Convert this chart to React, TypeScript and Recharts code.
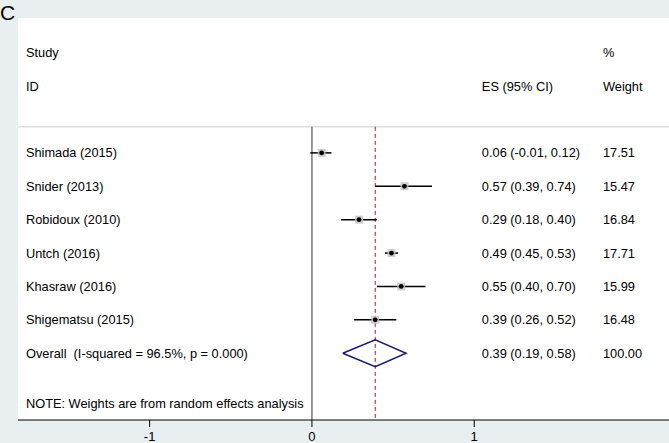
import {
  ScatterChart,
  Scatter,
  XAxis,
  YAxis,
  CartesianGrid,
  ReferenceLine,
} from "recharts";

const studies = [
  "Shimada (2015)",
  "Snider (2013)",
  "Robidoux (2010)",
  "Untch (2016)",
  "Khasraw (2016)",
  "Shigematsu (2015)",
];
const es = [0.06, 0.57, 0.29, 0.49, 0.55, 0.39];
const ciLow = [-0.01, 0.39, 0.18, 0.45, 0.4, 0.26];
const ciHigh = [0.12, 0.74, 0.4, 0.53, 0.7, 0.52];
const esText = [
  "0.06 (-0.01, 0.12)",
  "0.57 (0.39, 0.74)",
  "0.29 (0.18, 0.40)",
  "0.49 (0.45, 0.53)",
  "0.55 (0.40, 0.70)",
  "0.39 (0.26, 0.52)",
];
const weights = ["17.51", "15.47", "16.84", "17.71", "15.99", "16.48"];

const overallLabel = "Overall  (I-squared = 96.5%, p = 0.000)";
const overallEs = 0.39;
const overallLow = 0.19;
const overallHigh = 0.58;
const overallEsText = "0.39 (0.19, 0.58)";
const overallWeight = "100.00";
const note = "NOTE: Weights are from random effects analysis";
const xTicks = [-1, 0, 1];

// layout (data units)
const X_DOMAIN: [number, number] = [-1.811, 2.2];
const Y_DOMAIN: [number, number] = [-4.04, 8];
const LABEL_X = -1.762;
const ES_X = 1.047;
const WT_X = 1.793;
const HEAD1 = -3;
const HEAD2 = -2;
const SEP_Y = -0.78;
const OVERALL_Y = studies.length;
const NOTE_Y = 7.5;

const FONT = "'Liberation Sans', Arial, sans-serif";

const textRows = [
  { x: LABEL_X, y: HEAD1, label: "Study" },
  { x: LABEL_X, y: HEAD2, label: "ID" },
  { x: ES_X, y: HEAD2, label: "ES (95% CI)" },
  { x: WT_X, y: HEAD1, label: "%" },
  { x: WT_X, y: HEAD2, label: "Weight" },
  ...studies.map((s, i) => ({ x: LABEL_X, y: i, label: s })),
  ...esText.map((s, i) => ({ x: ES_X, y: i, label: s })),
  ...weights.map((s, i) => ({ x: WT_X, y: i, label: s })),
  { x: LABEL_X, y: OVERALL_Y, label: overallLabel },
  { x: ES_X, y: OVERALL_Y, label: overallEsText },
  { x: WT_X, y: OVERALL_Y, label: overallWeight },
  { x: LABEL_X, y: NOTE_Y, label: note },
];

const points = es.map((v, i) => ({ x: v, y: i }));

const diamond = [
  { x: overallLow, y: OVERALL_Y },
  { x: overallEs, y: OVERALL_Y - 0.404 },
  { x: overallHigh, y: OVERALL_Y },
  { x: overallEs, y: OVERALL_Y + 0.404 },
  { x: overallLow, y: OVERALL_Y },
];

const TextMark = (props: any) => (
  <text
    x={props.cx}
    y={props.cy}
    dy="0.36em"
    fontSize={12.8}
    fontFamily={FONT}
    fill="#000"
    style={{ whiteSpace: "pre" }}
  >
    {props.payload.label}
  </text>
);

const PointMark = (props: any) => (
  <g>
    <rect
      x={props.cx - 4}
      y={props.cy - 4}
      width={8}
      height={8}
      fill="#c4c4c4"
      opacity={0.8}
    />
    <circle cx={props.cx} cy={props.cy} r={2.4} fill="#000" />
  </g>
);

export default function App() {
  return (
    <div
      style={{
        position: "absolute",
        left: 0,
        top: 0,
        width: 669,
        height: 443,
        background: "#e9eef1",
        overflow: "hidden",
      }}
    >
      <div
        style={{
          position: "absolute",
          left: 0,
          top: 2,
          fontSize: 21,
          lineHeight: 1,
          fontFamily: FONT,
          color: "#000",
        }}
      >
        C
      </div>
      <ScatterChart
        width={669}
        height={443}
        margin={{ top: 18, right: 0, bottom: 0, left: 18 }}
      >
        <CartesianGrid
          fill="#ffffff"
          stroke="none"
          horizontal={false}
          vertical={false}
        />
        <XAxis
          type="number"
          dataKey="x"
          domain={X_DOMAIN}
          ticks={xTicks}
          allowDataOverflow
          height={23}
          tickSize={7}
          tickMargin={5}
          axisLine={{ stroke: "#000" }}
          tickLine={{ stroke: "#000" }}
          tick={{ fill: "#000", fontSize: 13, fontFamily: FONT }}
        />
        <YAxis
          type="number"
          dataKey="y"
          domain={Y_DOMAIN}
          reversed
          hide
          allowDataOverflow
        />
        <ReferenceLine y={SEP_Y} stroke="#cfcfcf" strokeWidth={1} />
        <ReferenceLine
          segment={[
            { x: 0, y: SEP_Y },
            { x: 0, y: Y_DOMAIN[1] },
          ]}
          stroke="#808080"
          strokeWidth={1.6}
        />
        <ReferenceLine
          segment={[
            { x: overallEs, y: SEP_Y },
            { x: overallEs, y: Y_DOMAIN[1] },
          ]}
          stroke="#8b2332"
          strokeWidth={1}
          strokeDasharray="4 3"
        />
        {es.map((_, i) => (
          <ReferenceLine
            key={i}
            segment={[
              { x: ciLow[i], y: i },
              { x: ciHigh[i], y: i },
            ]}
            stroke="#000"
            strokeWidth={1.5}
          />
        ))}
        <Scatter
          data={points}
          shape={PointMark}
          isAnimationActive={false}
        />
        <Scatter
          data={diamond}
          line={{ stroke: "#1c1c6b", strokeWidth: 1.5 }}
          shape={() => <g />}
          isAnimationActive={false}
        />
        <Scatter
          data={textRows}
          shape={TextMark}
          isAnimationActive={false}
        />
      </ScatterChart>
    </div>
  );
}
